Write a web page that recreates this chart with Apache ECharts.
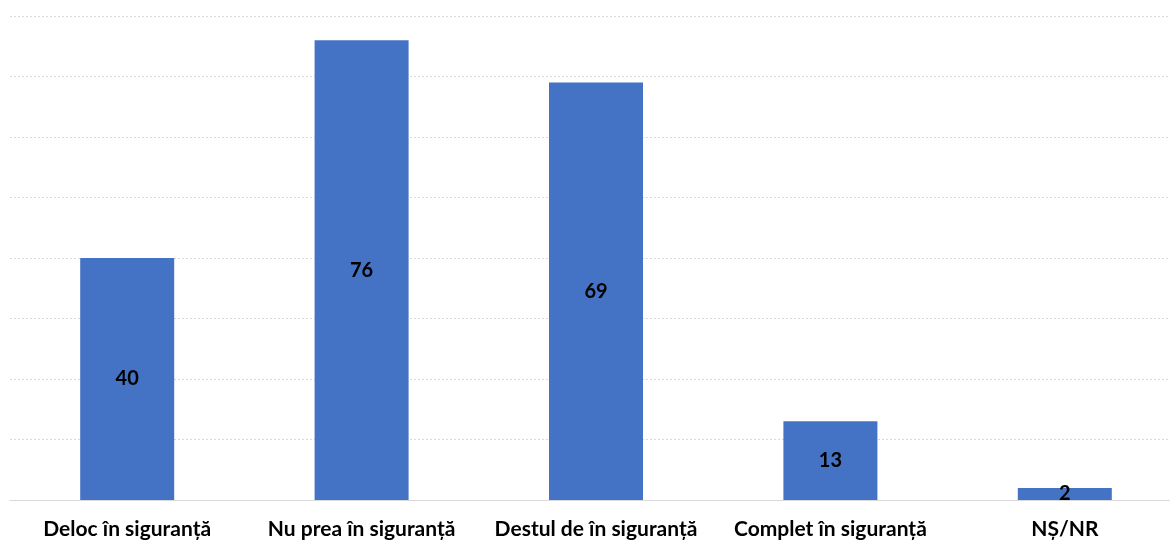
<!DOCTYPE html>
<html>
<head>
<meta charset="utf-8">
<script src="https://cdn.jsdelivr.net/npm/echarts@6/dist/echarts.min.js"></script>
<style>
  html, body { margin: 0; padding: 0; background: #fff; overflow: hidden; }
  #chart { width: 1182px; height: 544px; }
</style>
</head>
<body>
<div id="chart"></div>
<script>
var categories = ["Deloc în siguranță", "Nu prea în siguranță", "Destul de în siguranță", "Complet în siguranță", "NȘ/NR"];
var values = [40, 76, 69, 13, 2];

var myChart = echarts.init(document.getElementById("chart"));

// the plot area runs a little past the right edge of the window, as in the source
var option = {
  animation: false,
  grid: { left: 10, right: 0, top: 16, bottom: 44 },
  xAxis: {
    type: "category",
    data: categories,
    axisTick: { show: false },
    axisLine: { lineStyle: { color: "#d9d9d9", width: 1 } },
    axisLabel: {
      color: "#000",
      fontFamily: "Lato",
      fontWeight: "bold",
      fontSize: 21,
      margin: 19,
      interval: 0
    }
  },
  yAxis: {
    type: "value",
    min: 0,
    max: 80,
    interval: 10,
    axisLabel: { show: false },
    axisLine: { show: false },
    axisTick: { show: false },
    splitLine: { lineStyle: { color: "#d9d9d9", type: [2, 2], width: 1 } }
  },
  series: [
    {
      type: "bar",
      data: values,
      barWidth: 94,
      itemStyle: { color: "#4472c4" },
      label: {
        show: true,
        position: "inside",
        color: "#000",
        fontFamily: "Lato",
        fontWeight: "bold",
        fontSize: 20
      }
    }
  ]
};

myChart.setOption(option);
</script>
</body>
</html>
